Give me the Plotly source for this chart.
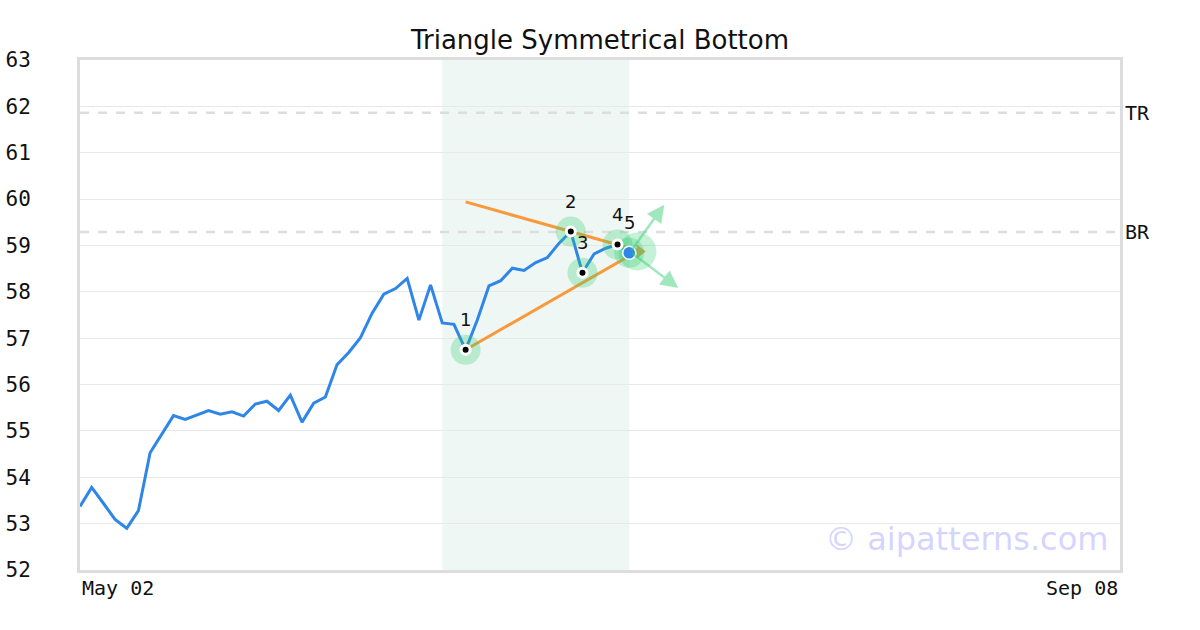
import plotly.graph_objects as go

# ---- data ----
close = [53.37, 53.78, 53.44, 53.09, 52.90, 53.28, 54.53, 54.93, 55.33, 55.25,
         55.34, 55.44, 55.36, 55.41, 55.32, 55.58, 55.64, 55.44, 55.77, 55.19,
         55.60, 55.73, 56.43, 56.69, 57.01, 57.54, 57.95, 58.07, 58.29, 57.39,
         58.15, 57.33, 57.30, 56.75, 57.39, 58.13, 58.24, 58.51, 58.46, 58.63,
         58.74, 59.05, 59.30, 58.41, 58.82, 58.94, 59.02, 58.84]
x_idx = list(range(len(close)))
x_range = [0, 89]
x_tick_labels = ["May 02", "Sep 08"]
y_ticks = list(range(52, 64))

pivot_idx = [33, 42, 43, 46]
pivot_labels = ["1", "2", "3", "4"]
breakout_idx = 47
breakout_label = "5"

upper_x = [33, 47.9]
upper_y = [59.94, 58.88]
lower_x = [33, 47.6]
lower_y = [56.75, 58.86]
apex = (47.9, 58.87)

shade_x = [31, 47]
tr_level = 61.86
br_level = 59.29

arrow_start = (47.1, 58.86)
arrow_up = (50.0, 59.88)
arrow_down = (51.2, 58.08)

BLUE = "#2e86e8"
ORANGE = "#f89a3c"
HALO = "rgba(46,204,113,0.28)"
ARROW = "rgba(46,204,113,0.45)"
MONO = "DejaVu Sans Mono"
SANS = "DejaVu Sans"

fig = go.Figure()

# shaded pattern region
fig.add_shape(type="rect", xref="x", yref="paper", x0=shade_x[0], x1=shade_x[1],
              y0=0, y1=1, fillcolor="rgba(200,230,215,0.3)", line_width=0, layer="below")

# dashed resistance lines
for lvl, name in [(tr_level, "TR"), (br_level, "BR")]:
    fig.add_shape(type="line", xref="paper", yref="y", x0=0, x1=1, y0=lvl, y1=lvl,
                  line=dict(color="#dddddd", width=2.5, dash="dash"), layer="below")
    fig.add_annotation(xref="paper", yref="y", x=1.0, y=lvl, text=name, showarrow=False,
                       xanchor="left", xshift=3, font=dict(family=MONO, size=20, color="#111"))

# price line
fig.add_trace(go.Scatter(x=x_idx, y=close, mode="lines",
                         line=dict(color=BLUE, width=3), hoverinfo="skip"))

# triangle lines
fig.add_trace(go.Scatter(x=upper_x, y=upper_y, mode="lines",
                         line=dict(color=ORANGE, width=3), hoverinfo="skip"))
fig.add_trace(go.Scatter(x=lower_x, y=lower_y, mode="lines",
                         line=dict(color=ORANGE, width=3), hoverinfo="skip"))
fig.add_trace(go.Scatter(x=[apex[0]], y=[apex[1]], mode="markers",
                         marker=dict(symbol="triangle-right", size=12, color=ORANGE),
                         hoverinfo="skip"))

# halos
px_ = [x_idx[i] for i in pivot_idx] + [breakout_idx]
py_ = [close[i] for i in pivot_idx] + [close[breakout_idx]]
fig.add_trace(go.Scatter(x=px_, y=py_, mode="markers",
                         marker=dict(size=30, color=HALO, line_width=0), hoverinfo="skip"))
fig.add_trace(go.Scatter(x=[apex[0] - 0.2], y=[apex[1]], mode="markers",
                         marker=dict(size=38, color=HALO, line_width=0), hoverinfo="skip"))

# breakout arrows
for tip in (arrow_up, arrow_down):
    fig.add_annotation(x=tip[0], y=tip[1], ax=arrow_start[0], ay=arrow_start[1],
                       xref="x", yref="y", axref="x", ayref="y", showarrow=True,
                       arrowhead=2, arrowsize=1.4, arrowwidth=2.5, arrowcolor=ARROW, text="")

# pivot markers
fig.add_trace(go.Scatter(x=[x_idx[i] for i in pivot_idx], y=[close[i] for i in pivot_idx],
                         mode="markers",
                         marker=dict(size=9, color="black", line=dict(color="white", width=3)),
                         hoverinfo="skip"))
fig.add_trace(go.Scatter(x=[breakout_idx], y=[close[breakout_idx]], mode="markers",
                         marker=dict(size=13, color=BLUE, line=dict(color="white", width=1.5)),
                         hoverinfo="skip"))
for i, lab in zip(pivot_idx + [breakout_idx], pivot_labels + [breakout_label]):
    fig.add_annotation(xref="x", yref="y", x=x_idx[i], y=close[i], text=lab, showarrow=False,
                       yshift=30, font=dict(family=SANS, size=18, color="#111"))

# x tick labels at the ends
fig.add_annotation(xref="x", yref="paper", x=x_range[0], y=0, yshift=-4, text=x_tick_labels[0],
                   showarrow=False, xanchor="left", yanchor="top",
                   font=dict(family=MONO, size=20, color="#111"))
fig.add_annotation(xref="x", yref="paper", x=x_range[1], y=0, yshift=-4, text=x_tick_labels[1],
                   showarrow=False, xanchor="right", yanchor="top",
                   font=dict(family=MONO, size=20, color="#111"))

# watermark
fig.add_annotation(xref="paper", yref="paper", x=0.99, y=0.02, text="© aipatterns.com",
                   showarrow=False, xanchor="right", yanchor="bottom",
                   font=dict(family=SANS, size=32, color="rgba(170,170,255,0.5)"))

fig.update_layout(
    width=1200, height=630,
    margin=dict(l=80, r=80, t=60, b=60, autoexpand=False),
    paper_bgcolor="white", plot_bgcolor="white",
    showlegend=False,
    title=dict(text="Triangle Symmetrical Bottom", x=0.5, xanchor="center", y=0.936,
               yanchor="middle", font=dict(family=SANS, size=26, color="#111")),
    xaxis=dict(range=x_range, showgrid=False, zeroline=False, showticklabels=False,
               showline=True, mirror=True, linecolor="#dddddd", linewidth=3, automargin=False),
    yaxis=dict(range=[52, 63], tickvals=y_ticks, showgrid=True, gridcolor="#e8e8e8",
               gridwidth=1, zeroline=False, showline=True, mirror=True, automargin=False,
               linecolor="#dddddd", linewidth=3, ticklabelstandoff=42,
               tickfont=dict(family=MONO, size=21, color="#111")),
)

fig.write_html("out.html", config={"displayModeBar": False},
               post_script="document.body.style.margin='0';")
